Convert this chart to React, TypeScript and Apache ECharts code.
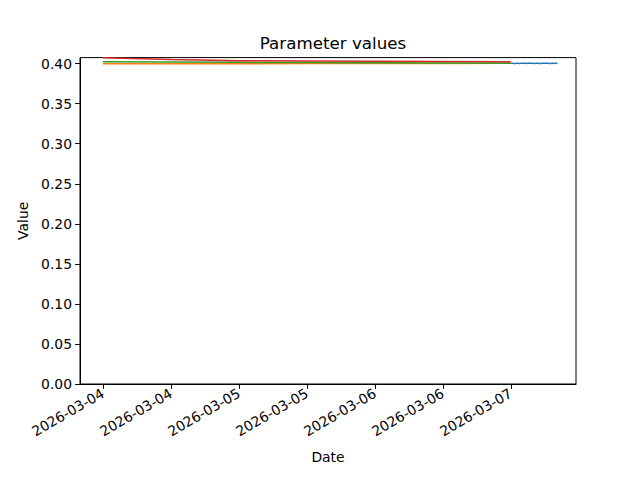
import React, { useEffect, useRef } from "react";
import * as echarts from "echarts";

const TITLE = "Parameter values";
const X_NAME = "Date";
const Y_NAME = "Value";

const LINE_TIMES = [
  "2026-03-04T00:00",
  "2026-03-04T12:00",
  "2026-03-05T00:00",
  "2026-03-05T12:00",
  "2026-03-06T00:00",
  "2026-03-06T12:00",
  "2026-03-07T00:00",
];
const ORANGE_VALUES = [0.3997, 0.3998, 0.3999, 0.4000, 0.4001, 0.4002, 0.4003];
const GREEN_VALUES = [0.4022, 0.4019, 0.4016, 0.4013, 0.4011, 0.4008, 0.4006];
const RED_VALUES = [0.4073, 0.4052, 0.4037, 0.4033, 0.4030, 0.4027, 0.4024];

const BLUE_START = "2026-03-07T00:00";
const BLUE_STEP_MIN = 15;
const BLUE_VALUES = [
  0.4004, 0.4003, 0.4001, 0.4002, 0.4004, 0.4003, 0.4002, 0.4003, 0.4005,
  0.4004, 0.4003, 0.4002, 0.4003, 0.4004, 0.4006, 0.4005, 0.4003, 0.4002,
  0.4004, 0.4003, 0.4001, 0.4002, 0.4003, 0.4005, 0.4004, 0.4003, 0.4004,
  0.4002, 0.4001, 0.4003, 0.4004, 0.4002, 0.4003, 0.4004,
];

const X_TICKS = [
  "2026-03-04T00:00",
  "2026-03-04T12:00",
  "2026-03-05T00:00",
  "2026-03-05T12:00",
  "2026-03-06T00:00",
  "2026-03-06T12:00",
  "2026-03-07T00:00",
];
const X_MIN = "2026-03-03T19:58";
const X_MAX = "2026-03-07T11:31";
const Y_TICKS = [0, 0.05, 0.1, 0.15, 0.2, 0.25, 0.3, 0.35, 0.4];
const Y_MIN = 0;
const Y_MAX = 0.4075;

const COLORS = { blue: "#1f77b4", orange: "#ff7f0e", green: "#2ca02c", red: "#d62728" };
const FONT = "DejaVu Sans";

const ts = (s: string) => Date.parse(s + ":00Z");
const pad = (n: number) => (n < 10 ? "0" + n : "" + n);
const fmtDate = (v: number) => {
  const d = new Date(v);
  return `${d.getUTCFullYear()}-${pad(d.getUTCMonth() + 1)}-${pad(d.getUTCDate())}`;
};

export default function App() {
  const ref = useRef<HTMLDivElement>(null);
  useEffect(() => {
    if (!ref.current) return;
    const chart = echarts.init(ref.current, null, { renderer: "svg" });
    const lineData = (vals: number[]) => LINE_TIMES.map((t, i) => [ts(t), vals[i]]);
    const blueStart = ts(BLUE_START);
    const blueData = BLUE_VALUES.map((v, i) => [blueStart + i * BLUE_STEP_MIN * 60000, v]);
    const mk = (name: string, color: string, data: number[][]) => ({
      name,
      type: "line",
      data,
      symbol: "none",
      showSymbol: false,
      clip: true,
      lineStyle: { color, width: 1.5 },
      itemStyle: { color },
    });
    chart.setOption({
      animation: false,
      backgroundColor: "#ffffff",
      textStyle: { fontFamily: FONT },
      title: {
        text: TITLE,
        left: 328,
        top: 29,
        textAlign: "center",
        textStyle: { fontFamily: FONT, fontSize: 16.7, fontWeight: "normal", color: "#000" },
      },
      grid: {
        left: 80,
        right: 64,
        top: 57.6,
        bottom: 96,
        show: true,
        borderColor: "#000",
        borderWidth: 1,
        backgroundColor: "transparent",
      },
      xAxis: {
        type: "value",
        min: ts(X_MIN),
        max: ts(X_MAX),
        name: X_NAME,
        nameLocation: "middle",
        nameGap: 66,
        nameTextStyle: { fontFamily: FONT, fontSize: 13.9, color: "#000" },
        axisLine: { show: true, onZero: false, lineStyle: { color: "#000", width: 1 } },
        axisTick: {
          show: true,
          length: 4.9,
          lineStyle: { color: "#000", width: 1 },
          customValues: X_TICKS.map(ts),
        },
        axisLabel: {
          show: true,
          rotate: 30,
          margin: 8,
          fontFamily: FONT,
          fontSize: 13.9,
          color: "#000",
          showMinLabel: true,
          showMaxLabel: true,
          hideOverlap: false,
          customValues: X_TICKS.map(ts),
          formatter: (v: number) => fmtDate(v),
        },
        splitLine: { show: false },
      },
      yAxis: {
        type: "value",
        min: Y_MIN,
        max: Y_MAX,
        name: Y_NAME,
        nameLocation: "middle",
        nameGap: 47,
        nameRotate: 90,
        nameTextStyle: { fontFamily: FONT, fontSize: 13.9, color: "#000" },
        axisLine: { show: true, onZero: false, lineStyle: { color: "#000", width: 1 } },
        axisTick: {
          show: true,
          length: 4.9,
          lineStyle: { color: "#000", width: 1 },
          customValues: Y_TICKS,
        },
        axisLabel: {
          show: true,
          margin: 8,
          fontFamily: FONT,
          fontSize: 13.9,
          color: "#000",
          customValues: Y_TICKS,
          formatter: (v: number) => v.toFixed(2),
        },
        splitLine: { show: false },
      },
      series: [
        mk("blue", COLORS.blue, blueData),
        mk("orange", COLORS.orange, lineData(ORANGE_VALUES)),
        mk("green", COLORS.green, lineData(GREEN_VALUES)),
        mk("red", COLORS.red, lineData(RED_VALUES)),
      ],
    });
    return () => chart.dispose();
  }, []);
  return (
    <div
      ref={ref}
      style={{ position: "fixed", left: 0, top: 0, width: 640, height: 480, background: "#fff" }}
    />
  );
}
